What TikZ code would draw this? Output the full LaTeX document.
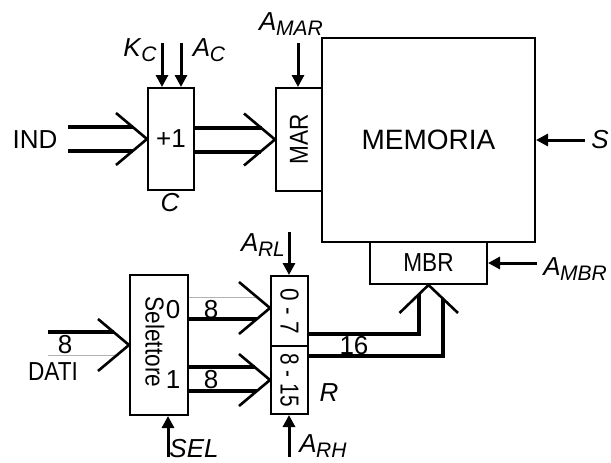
\documentclass[tikz,border=0pt]{standalone}
\usepackage{fontspec}
\setmainfont{Liberation Sans}
\usetikzlibrary{arrows.meta,calc}
\newcommand{\lbl}[2]{\textit{#1}\kern-0.5pt\raisebox{-5pt}{\fontsize{21}{21}\selectfont\textit{#2}}}
\newcommand{\cond}[1]{\scalebox{0.87}[1]{#1}}
\begin{document}
\begin{tikzpicture}[x=1pt,y=-1pt,
  every node/.style={font=\fontsize{26}{28}\selectfont, inner sep=0pt},
  box/.style={draw, line width=2pt, inner sep=0pt, fill=white},
  ctrl/.style={line width=3pt, -{Triangle[length=12pt,width=12pt]}},
  bus/.style={line width=3.4pt},
  chev/.style={line width=2.6pt},
  greyline/.style={line width=0.8pt, black!30}]
\useasboundingbox (0,0) rectangle (611,463);

% boxes
\node[box, minimum width=213pt, minimum height=204pt] (MEM) at (428.5,140) {\fontsize{28}{30}\selectfont MEMORIA};
\node[box, minimum width=46pt, minimum height=102pt] (C) at (171,139) {+1};
\node[box, minimum width=46pt, minimum height=103pt] (MAR) at (299,139.5) {\rotatebox{90}{\cond{MAR}}};
\node[box, minimum width=117pt, minimum height=42pt] (MBR) at (428.5,263) {\cond{MBR}};
\node[box, minimum width=37pt, minimum height=70pt] (R0) at (289.5,311) {\rotatebox{-90}{\cond{0 - 7}}};
\node[box, minimum width=37pt, minimum height=68pt] (R1) at (289.5,380) {\rotatebox{-90}{\scalebox{0.8}[1]{8 - 15}}};
\node[box, minimum width=58pt, minimum height=140pt] (SEL) at (159,345) {};
\node (seltxt) at (155,342) {\rotatebox{-90}{\cond{Selettore}}};

% labels
\node (IND) at (35,140) {IND};
\node (KC) at (140,50) {\lbl{K}{C}};
\node (AC) at (209,50) {\lbl{A}{C}};
\node (AMAR) at (291,24) {\lbl{A}{MAR}};
\node (Slab) at (600,140) {\textit{S}};
\node (AMBR) at (575,269) {\lbl{A}{MBR}};
\node (ARL) at (263,245) {\lbl{A}{RL}};
\node (ARH) at (323,446) {\lbl{A}{RH}};
\node (SELlab) at (194,449) {\textit{SEL}};
\node (Clab) at (170,203) {\textit{C}};
\node (Rlab) at (329,393) {\textit{R}};
\node (n16) at (354,346) {16};
\node (n8a) at (211,310) {8};
\node (n8b) at (211,380) {8};
\node (n8c) at (65,345) {8};
\node (DATI) at (53,372) {\cond{DATI}};
\node (o0) at (173,310) {0};
\node (o1) at (173,380) {1};

% IND bus into C
\draw[bus] ($(C.west)+(-79,-12)$) -- ($(C.west)+(-14.3,-12)$);
\draw[bus] ($(C.west)+(-79,12)$) -- ($(C.west)+(-14.3,12)$);
\draw[chev] ($(C.west)+(-31,-26)$) -- (C.west) -- ($(C.west)+(-31,26)$);

% C to MAR
\draw[bus] ($(C.east)+(0,-11)$) -- ($(MAR.west)+(-13.5,-11.5)$);
\draw[bus] ($(C.east)+(0,13)$) -- ($(MAR.west)+(-14.3,12.5)$);
\draw[chev] ($(MAR.west)+(-31,-26)$) -- (MAR.west) -- ($(MAR.west)+(-31,26)$);

% R to MBR
\draw[bus] ($(R0.east)+(0,23)$) -| ($(MBR.south)+(-9.5,9.2)$);
\draw[bus] ($(R1.east)+(0,-24)$) -| ($(MBR.south)+(14.5,13.8)$);
\draw[chev] ($(MBR.south)+(-29,28)$) -- (MBR.south) -- ($(MBR.south)+(29.5,28)$);

% Selettore output 0
\coordinate (t0) at ($(R0.west)+(0,-3)$);
\draw[greyline] ($(SEL.east)+(0,-48)$) -- ($(t0)+(-13.1,-11)$);
\draw[bus] ($(SEL.east)+(0,-26)$) -- ($(t0)+(-13.1,11)$);
\draw[chev] ($(t0)+(-31,-26)$) -- (t0) -- ($(t0)+(-31,26)$);

% Selettore output 1
\draw[bus] ($(SEL.east)+(0,22)$) -- ($(R1.west)+(-15.5,-13)$);
\draw[bus] ($(SEL.east)+(0,46)$) -- ($(R1.west)+(-13.1,11)$);
\draw[chev] ($(R1.west)+(-31,-26)$) -- (R1.west) -- ($(R1.west)+(-31,26)$);

% DATI into Selettore
\draw[bus] ($(SEL.west)+(-81,-13)$) -- ($(SEL.west)+(-15.5,-13)$);
\draw[greyline] ($(SEL.west)+(-81,10)$) -- ($(SEL.west)+(-11.9,10)$);
\draw[chev] ($(SEL.west)+(-31,-26)$) -- (SEL.west) -- ($(SEL.west)+(-31,26)$);

% control arrows
\coordinate (kc) at (162,43);
\coordinate (ac) at (181,43);
\coordinate (amar) at (298,43);
\coordinate (sin) at (585,140);
\coordinate (ambr) at (537,263);
\coordinate (arl) at (289,232);
\coordinate (arh) at (289,457);
\coordinate (selin) at (168,457);
\draw[ctrl] (kc) -- (kc |- C.north);
\draw[ctrl] (ac) -- (ac |- C.north);
\draw[ctrl] (amar) -- (amar |- MAR.north);
\draw[ctrl] (sin) -- (sin -| MEM.east);
\draw[ctrl] (ambr) -- (ambr -| MBR.east);
\draw[ctrl] (arl) -- (arl |- R0.north);
\draw[ctrl] (arh) -- (arh |- R1.south);
\draw[ctrl] (selin) -- (selin |- SEL.south);
\end{tikzpicture}
\end{document}
